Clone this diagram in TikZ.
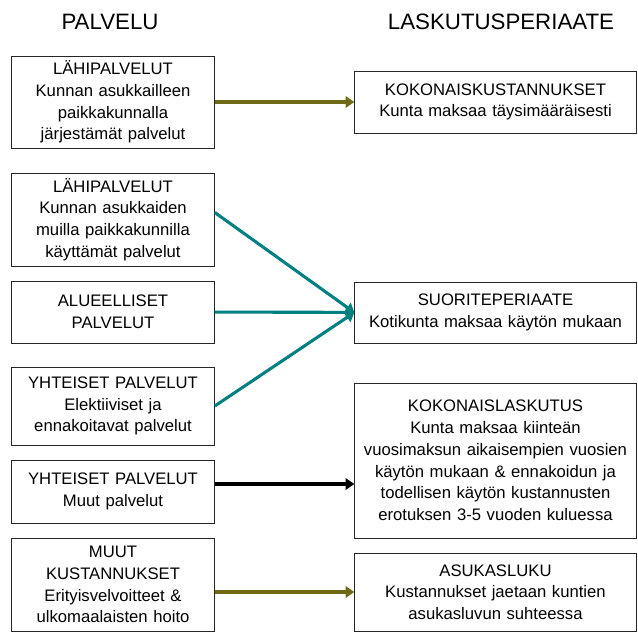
\documentclass[tikz,border=0pt]{standalone}
\usepackage{fontspec}
\setmainfont{Liberation Sans}
\usepackage{tikz}
\usetikzlibrary{calc,positioning,arrows.meta}

\definecolor{olivearrow}{RGB}{112,106,22}
\definecolor{tealarrow}{RGB}{0,128,128}

\begin{document}
\begin{tikzpicture}[x=0.75pt, y=-0.75pt]
\tikzset{every node/.style={font=\fontsize{12.5}{16.3}\selectfont, align=center, inner sep=2pt},
         lbox/.style={draw=black!85, line width=0.75pt, minimum width=151.5pt, text width=148pt},
         rbox/.style={draw=black!85, line width=0.75pt, minimum width=210.75pt, text width=207pt},
         title/.style={font=\fontsize{16.7}{19}\selectfont},
         link/.style={line width=2.3pt, -{Triangle[length=6.5pt,width=8.5pt]}}}
\useasboundingbox (0,0) rectangle (638,632);
% otsikot
\node[title] (t1) at (110,22) {PALVELU};
\node[title] (t2) at (501,22) {LASKUTUSPERIAATE};
% palvelut
\node[lbox, minimum height=69pt] (b1) at (113,102) {LÄHIPALVELUT\\Kunnan asukkailleen\\paikkakunnalla\\järjestämät palvelut};
\node[lbox, minimum height=69.75pt] (b2) at (113,219.5) {LÄHIPALVELUT\\Kunnan asukkaiden\\muilla paikkakunnilla\\käyttämät palvelut};
\node[lbox, minimum height=46.5pt] (b3) at (113,312) {ALUEELLISET\\PALVELUT};
\node[lbox, minimum height=58.5pt] (b4) at (113,406) {YHTEISET PALVELUT\\Elektiiviset ja\\ennakoitavat palvelut};
\node[lbox, minimum height=47.25pt] (b5) at (113,491.5) {YHTEISET PALVELUT\\Muut palvelut};
\node[lbox, minimum height=69.75pt] (b6) at (113,584.5) {MUUT\\KUSTANNUKSET\\Erityisvelvoitteet \&\\ulkomaalaisten hoito};
% laskutusperiaatteet
\node[rbox, minimum height=46.5pt] (r1) at (495.5,102) {KOKONAISKUSTANNUKSET\\Kunta maksaa täysimääräisesti};
\node[rbox, minimum height=45.75pt] (r2) at (495.5,312.5) {SUORITEPERIAATE\\Kotikunta maksaa käytön mukaan};
\node[rbox, minimum height=116.25pt] (r3) at (495.5,460.5) {KOKONAISLASKUTUS\\Kunta maksaa kiinteän\\vuosimaksun aikaisempien vuosien\\käytön mukaan \& ennakoidun ja\\todellisen käytön kustannusten\\erotuksen 3-5 vuoden kuluessa};
\node[rbox, minimum height=58.5pt] (r4) at (495.5,592) {ASUKASLUKU\\Kustannukset jaetaan kuntien\\asukasluvun suhteessa};
% nuolet
\coordinate (c2) at ($(b2.east)+(0,-7)$);
\coordinate (c5) at ($(b5.east)+(0,-7.5)$);
\draw[link, olivearrow] (b1) -- (r1);
\draw[link, tealarrow] (c2) -- (r2.west);
\draw[link, tealarrow] (b3) -- (r2);
\draw[link, tealarrow] (b4.east) -- (r2.west);
\draw[link, black] (c5) -- (r3.west |- c5);
\draw[link, olivearrow] (b6.east |- r4.west) -- (r4.west);
\end{tikzpicture}
\end{document}
